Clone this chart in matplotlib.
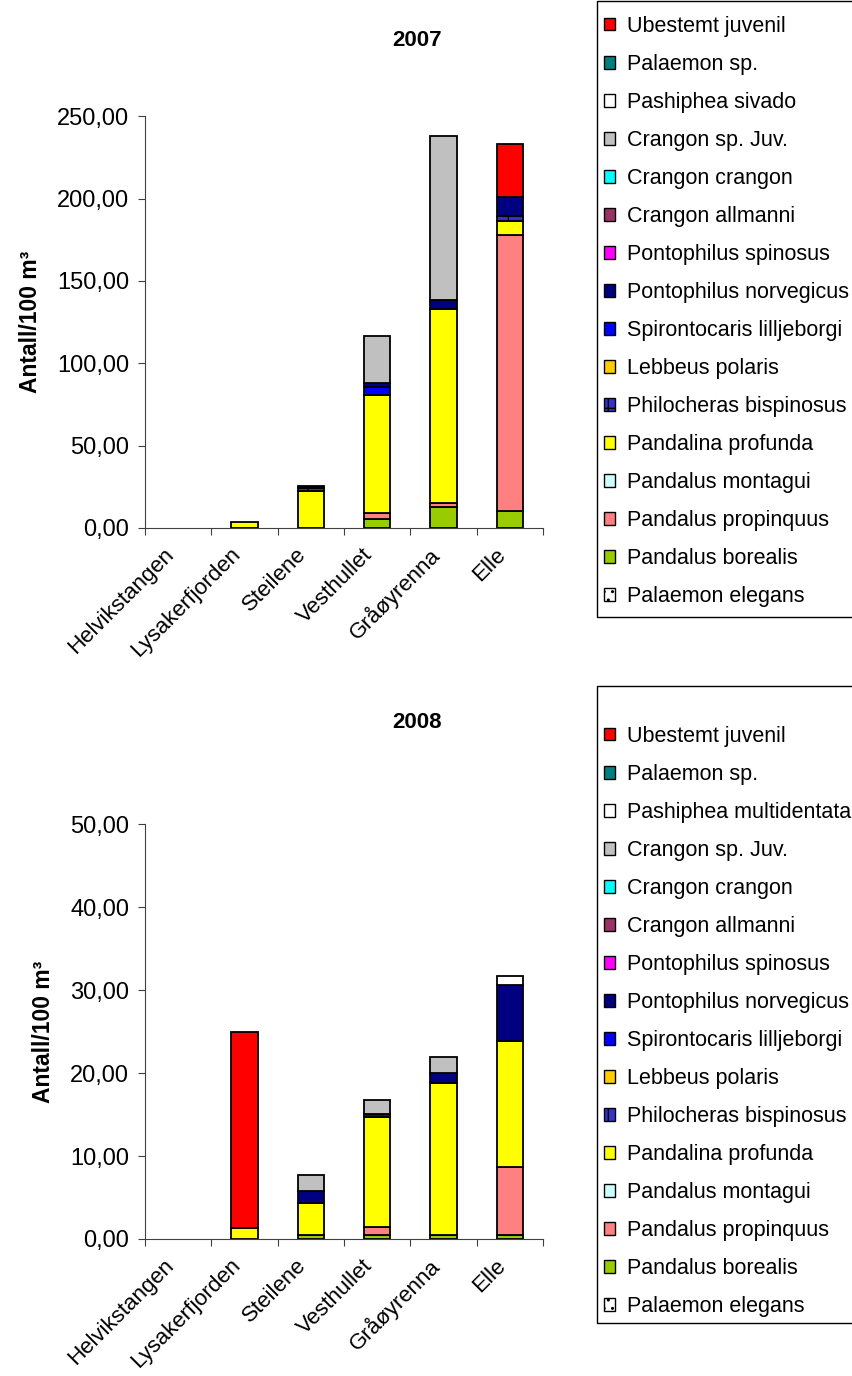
import matplotlib
matplotlib.use("Agg")
import matplotlib.pyplot as plt
import matplotlib.transforms as mtransforms
import numpy as np
from matplotlib.patches import Patch, Rectangle

plt.rcParams['font.family'] = ['Liberation Sans', 'DejaVu Sans']

sites = ['Helvikstangen', 'Lysakerfjorden', 'Steilene', 'Vesthullet', 'Gråøyrenna', 'Elle']

# legend order (top of legend = top of stack)
species_2007 = ['Ubestemt juvenil', 'Palaemon sp.', 'Pashiphea sivado', 'Crangon sp. Juv.',
                'Crangon crangon', 'Crangon allmanni', 'Pontophilus spinosus',
                'Pontophilus norvegicus', 'Spirontocaris lilljeborgi', 'Lebbeus polaris',
                'Philocheras bispinosus', 'Pandalina profunda', 'Pandalus montagui',
                'Pandalus propinquus', 'Pandalus borealis', 'Palaemon elegans']
species_2008 = list(species_2007)
species_2008[2] = 'Pashiphea multidentata'

colors = ['#FF0000', '#008080', '#FFFFFF', '#C0C0C0', '#00FFFF', '#993366', '#FF00FF',
          '#000080', '#0000FF', '#FFCC00', '#3333CC', '#FFFF00', '#CCFFFF',
          '#FF8080', '#99CC00', '#FFFFFF']
hatches = [None] * 10 + ['+'] + [None] * 4 + ['..']

# values per site, Antall/100 m3
ubestemt_07 = [0, 0, 0, 0, 0, 32.0]
palaemon_sp_07 = [0, 0, 0, 0, 0, 0]
pashiphea_07 = [0, 0, 0, 0, 0, 0]
crangon_juv_07 = [0, 0, 0, 28.4, 99.6, 0]
crangon_crangon_07 = [0, 0, 0, 0, 0, 0]
crangon_allmanni_07 = [0, 0, 0, 0, 0, 0]
pont_spinosus_07 = [0, 0, 0, 0, 0, 0]
pont_norvegicus_07 = [0, 0, 1.5, 2.2, 5.4, 11.7]
spirontocaris_07 = [0, 0, 0, 5.1, 0, 0]
lebbeus_07 = [0, 0, 0, 0, 0, 0]
philocheras_07 = [0, 0, 1.5, 0, 0, 3.0]
pandalina_07 = [0, 3.5, 22.5, 71.5, 117.5, 8.1]
montagui_07 = [0, 0, 0, 0, 0, 0]
propinquus_07 = [0, 0, 0, 3.8, 2.6, 167.9]
borealis_07 = [0, 0, 0, 5.3, 12.8, 10.3]
elegans_07 = [0, 0, 0, 0, 0, 0]

ubestemt_08 = [0, 23.6, 0, 0, 0, 0]
palaemon_sp_08 = [0, 0, 0, 0, 0, 0]
pashiphea_08 = [0, 0, 0, 0, 0, 1.1]
crangon_juv_08 = [0, 0, 1.95, 1.6, 2.0, 0]
crangon_crangon_08 = [0, 0, 0, 0, 0, 0]
crangon_allmanni_08 = [0, 0, 0, 0, 0, 0]
pont_spinosus_08 = [0, 0, 0, 0, 0, 0]
pont_norvegicus_08 = [0, 0, 1.5, 0, 1.2, 6.7]
spirontocaris_08 = [0, 0, 0, 0.4, 0, 0]
lebbeus_08 = [0, 0, 0, 0, 0, 0]
philocheras_08 = [0, 0, 0, 0, 0, 0]
pandalina_08 = [0, 1.3, 3.8, 13.2, 18.3, 15.2]
montagui_08 = [0, 0, 0, 0, 0, 0]
propinquus_08 = [0, 0, 0, 1.0, 0, 8.2]
borealis_08 = [0, 0, 0.5, 0.5, 0.5, 0.5]
elegans_08 = [0, 0, 0, 0, 0, 0]

data_07 = [ubestemt_07, palaemon_sp_07, pashiphea_07, crangon_juv_07, crangon_crangon_07,
           crangon_allmanni_07, pont_spinosus_07, pont_norvegicus_07, spirontocaris_07,
           lebbeus_07, philocheras_07, pandalina_07, montagui_07, propinquus_07,
           borealis_07, elegans_07]
data_08 = [ubestemt_08, palaemon_sp_08, pashiphea_08, crangon_juv_08, crangon_crangon_08,
           crangon_allmanni_08, pont_spinosus_08, pont_norvegicus_08, spirontocaris_08,
           lebbeus_08, philocheras_08, pandalina_08, montagui_08, propinquus_08,
           borealis_08, elegans_08]

W, H = 852, 1376


def draw_panel(fig, rect, data, names, year, ymax, ystep, title_y, leg_box, leg_first):
    ax = fig.add_axes(rect)
    x = np.arange(len(sites))
    bottom = np.zeros(len(sites))
    # stack from the last legend entry upwards
    for i in reversed(range(len(names))):
        vals = np.array(data[i], dtype=float)
        m = vals > 0
        if m.any():
            ax.bar(x[m], vals[m], 0.4, bottom=bottom[m], color=colors[i], edgecolor='black',
                   linewidth=1.3, hatch=hatches[i])
        bottom += vals

    ax.set_xlim(-0.5, len(sites) - 0.5)
    ax.set_ylim(0, ymax)
    yt = np.arange(0, ymax + ystep / 2, ystep)
    ax.set_yticks(yt)
    ax.set_yticklabels([f'{v:.2f}'.replace('.', ',') for v in yt], fontsize=17)
    ax.set_xticks(np.arange(-0.5, len(sites)))
    ax.set_xticklabels([])

    # category names, rotated, placed under each bar
    base = mtransforms.blended_transform_factory(ax.transData, ax.transAxes)
    shift = mtransforms.ScaledTranslation(-0.15, -0.16, fig.dpi_scale_trans)
    for i, name in enumerate(sites):
        ax.text(i, 0, name, transform=base + shift, rotation=45, ha='right', va='top',
                rotation_mode='anchor', fontsize=16)

    ax.tick_params(axis='x', length=5, color='#404040')
    ax.tick_params(axis='y', length=5, color='#404040', pad=6.5)
    for s in ['top', 'right']:
        ax.spines[s].set_visible(False)
    for s in ['left', 'bottom']:
        ax.spines[s].set_color('#404040')
    ax.set_ylabel('Antall/100 m³', fontsize=16.5, fontweight='bold', labelpad=10.5)
    fig.text(417 / W, 1 - title_y / H, year, fontsize=16, fontweight='bold',
             ha='center', va='center')

    # legend frame (runs past the right edge like the original)
    y0, y1 = leg_box
    fig.patches.append(Rectangle((597 / W, 1 - y1 / H), 0.4, (y1 - y0) / H,
                                 transform=fig.transFigure, facecolor='white',
                                 edgecolor='black', linewidth=1, zorder=0))
    handles = [Patch(facecolor=colors[i], edgecolor='black', hatch=hatches[i], linewidth=1)
               for i in range(len(names))]
    fig.legend(handles, names, loc='upper left', bbox_to_anchor=(604 / W, 1 - leg_first / H),
               fontsize=15.5, frameon=False, handlelength=0.5, handleheight=0.5,
               handletextpad=0.55, labelspacing=0.79, borderpad=0, borderaxespad=0)
    return ax


fig = plt.figure(figsize=(W / 100, H / 100), dpi=100)
draw_panel(fig, [0.1702, 0.6163, 0.4671, 0.2992], data_07, species_2007, '2007', 250, 50,
           41, (1, 617), 16)
draw_panel(fig, [0.1702, 0.0996, 0.4671, 0.3013], data_08, species_2008, '2008', 50, 10,
           722, (686, 1323), 726)

fig.savefig('out.png', dpi=100)
